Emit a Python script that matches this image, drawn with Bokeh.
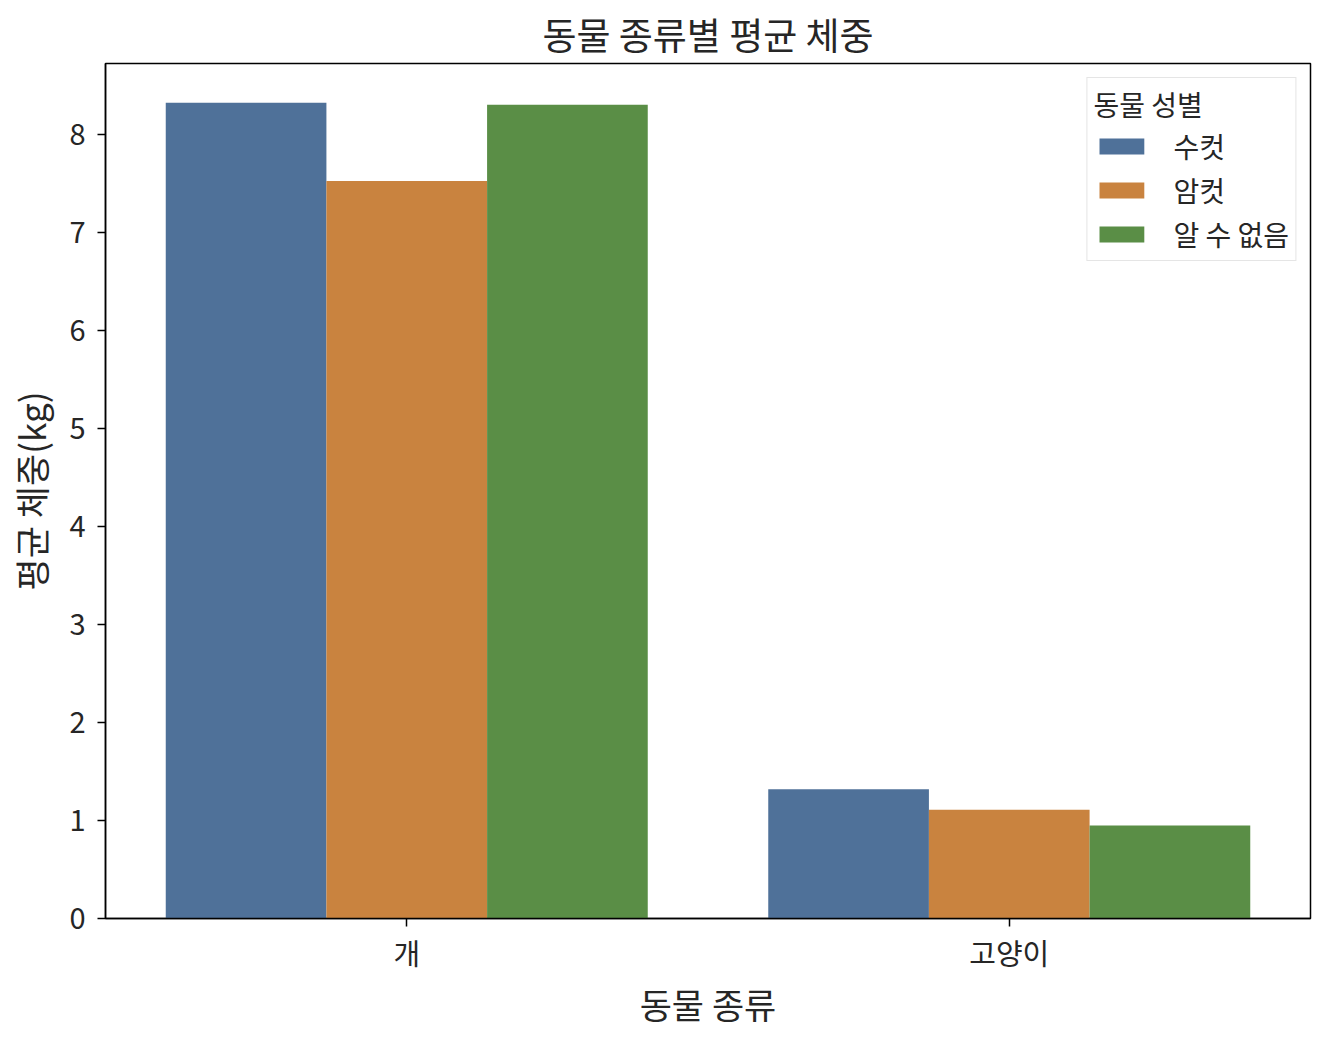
from bokeh.plotting import figure
from bokeh.models import ColumnDataSource, FactorRange, Range1d, Legend, LegendItem
from bokeh.transform import dodge
from bokeh.embed import file_html
from bokeh.resources import INLINE

species = ["개", "고양이"]
sexes = ["수컷", "암컷", "알 수 없음"]
male = [8.33, 1.32]
female = [7.53, 1.11]
unknown = [8.31, 0.95]
colors = ["#4f7199", "#c9833f", "#5a8e46"]
y_ticks = [0, 1, 2, 3, 4, 5, 6, 7, 8]

FONT = "Noto Sans CJK KR"

src = ColumnDataSource(dict(species=species, male=male, female=female, unknown=unknown))

p = figure(width=1324, height=1036, x_range=FactorRange(*species, range_padding=0),
           y_range=Range1d(0, 8.73), output_backend="svg", toolbar_location=None,
           min_border_left=105, min_border_right=14, min_border_top=63, min_border_bottom=118)

w = 0.8 / 3
renderers = []
for i, (col, c) in enumerate(zip(["male", "female", "unknown"], colors)):
    r = p.vbar(x=dodge("species", (i - 1) * w, range=p.x_range), top=col, width=w,
               source=src, fill_color=c, line_color=None)
    renderers.append(r)

legend = Legend(items=[LegendItem(label=s, renderers=[r]) for s, r in zip(sexes, renderers)],
                location="top_right", title="동물 성별")
legend.title_text_font = FONT
legend.title_text_font_size = "28px"
legend.title_text_font_style = "normal"
legend.title_text_color = "#262626"
legend.label_text_font = FONT
legend.label_text_font_size = "28px"
legend.label_text_color = "#262626"
legend.glyph_width = 56
legend.glyph_height = 20
legend.label_standoff = 24
legend.spacing = 4
legend.padding = 6
legend.margin = 14
legend.border_line_color = "#cccccc"
legend.border_line_width = 1.5
legend.background_fill_alpha = 0.8
legend.title_standoff = 2
p.add_layout(legend)

p.title.text = "동물 종류별 평균 체중"
p.title.text_font = FONT
p.title.text_font_size = "37px"
p.title.text_font_style = "normal"
p.title.align = "center"
p.title.text_color = "#262626"
p.title.standoff = 6

p.xaxis.axis_label = "동물 종류"
p.yaxis.axis_label = "평균 체중(kg)"
p.yaxis.ticker = y_ticks
for ax in (p.xaxis, p.yaxis):
    ax.axis_label_text_font = FONT
    ax.axis_label_text_font_size = "35px"
    ax.axis_label_text_font_style = "normal"
    ax.axis_label_text_color = "#262626"
    ax.major_label_text_font = FONT
    ax.major_label_text_font_size = "29px"
    ax.major_label_text_color = "#262626"
    ax.axis_line_color = "black"
    ax.axis_line_width = 1.5
    ax.major_tick_line_color = "black"
    ax.major_tick_line_width = 1.5
    ax.major_tick_out = 8
    ax.major_tick_in = 0
    ax.minor_tick_line_color = None
p.yaxis.major_label_standoff = 12
p.xaxis.major_label_standoff = 4
p.xaxis.axis_label_standoff = 2
p.yaxis.axis_label_standoff = 10
p.xgrid.grid_line_color = None
p.ygrid.grid_line_color = None
p.outline_line_color = "black"
p.outline_line_width = 1.5
p.background_fill_color = "white"

open("out.html", "w").write(file_html(p, INLINE))
